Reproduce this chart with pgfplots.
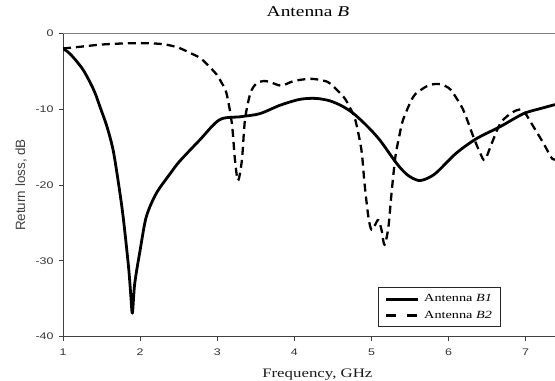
\documentclass[border=0pt]{standalone}
\usepackage{fontspec}
\setmainfont{Liberation Serif}[FakeStretch=1.3]
\setsansfont{Liberation Sans}[FakeStretch=1.3]
\newfontfamily\ylabfont{Liberation Sans}
\usepackage{pgfplots}
\pgfplotsset{compat=1.18}
\begin{document}
\begin{tikzpicture}
\begin{axis}[
  scale only axis,
  width=492bp, height=303.4bp,
  xmin=1, xmax=7.38, ymin=-40, ymax=0,
  xtick={1,2,3,4,5,6,7}, ytick={-40,-30,-20,-10,0},
  axis x line*=bottom, axis y line*=left,
  axis line style={line width=0.9pt, color=black!75, -},
  tick style={line width=0.8pt, color=black!75},
  tick align=outside, major tick length=4bp,
  /pgf/number format/assume math mode=true,
  xticklabel style={font=\sffamily\fontsize{9.6}{10}\selectfont, text=black!80, yshift=-5bp},
  yticklabel style={font=\sffamily\fontsize{9.6}{10}\selectfont, text=black!80, xshift=-2bp},
  title={Antenna \textit{B}},
  title style={font=\rmfamily\fontsize{15}{16}\selectfont, at={(rel axis cs:0.498,1.037)}, anchor=base},
  xlabel={Frequency, GHz},
  xlabel style={font=\rmfamily\fontsize{13}{14}\selectfont, at={(rel axis cs:0.517,-0.133)}, anchor=base, text=black!90},
  ylabel={Return loss, dB},
  ylabel style={font=\ylabfont\fontsize{13.5}{14}\selectfont, at={(rel axis cs:-0.085,0.5)}, anchor=center, rotate=0, text=black!75},
  legend style={at={(rel axis cs:0.64,0.032)}, anchor=south west,
    font=\rmfamily\fontsize{11}{12}\selectfont, draw=black!85, line width=0.7pt,
    inner xsep=6bp, inner ysep=5bp, row sep=3.5bp, column sep=3bp},
  legend cell align=left,
  legend image code/.code={\draw[#1] (0bp,0bp) -- (32bp,0bp);},
  every axis plot/.append style={line join=round},
]
\coordinate (ll) at (rel axis cs:0,0);
\coordinate (ur) at (rel axis cs:1,1);
\draw[black!50, line width=0.8pt] (rel axis cs:0,1) -- (rel axis cs:1,1);
\addlegendimage{black, line width=3bp}
\addlegendentry{Antenna \textit{B1}}
\addlegendimage{black, line width=2.6bp, dash pattern=on 10bp off 11bp}
\addlegendentry{Antenna \textit{B2}}
\addplot[black, line width=2.8pt, smooth, tension=0.5, forget plot] coordinates {
(1,-2) (1.1,-2.8) (1.26,-4.8) (1.4,-7.5) (1.48,-9.7) (1.57,-12.3) (1.65,-15.4)
(1.72,-19.8) (1.78,-24.2) (1.85,-30.8) (1.88,-34.7) (1.9,-36.9) (1.93,-33.0)
(2.0,-28.6) (2.08,-24.2) (2.21,-21.1) (2.39,-18.5) (2.51,-16.9) (2.77,-14.1)
(3.03,-11.4) (3.30,-11.0) (3.55,-10.6) (3.81,-9.5) (4.03,-8.8) (4.16,-8.6)
(4.3,-8.6) (4.46,-8.9) (4.62,-9.6) (4.77,-10.6) (4.95,-12.3) (5.11,-14.1) (5.33,-17.2)
(5.47,-18.7) (5.61,-19.4) (5.73,-19.1) (5.85,-18.3) (6.1,-15.8) (6.36,-13.9)
(6.67,-12.3) (6.97,-10.6) (7.2,-9.9) (7.38,-9.4)
};
\addplot[black, line width=2.3pt, dash pattern=on 8bp off 5bp, smooth, tension=0.5, forget plot] coordinates {
(1,-2) (1.2,-1.8) (1.48,-1.5) (1.75,-1.35) (2.0,-1.3) (2.2,-1.35) (2.34,-1.5)
(2.5,-1.9) (2.65,-2.6) (2.77,-3.2) (2.86,-4.0) (2.99,-5.4) (3.05,-6.4) (3.12,-7.9)
(3.19,-11.9) (3.23,-16.7) (3.27,-19.4) (3.32,-16.7) (3.36,-11.4) (3.43,-7.9)
(3.51,-6.6) (3.6,-6.3) (3.68,-6.4) (3.83,-6.9) (3.99,-6.3) (4.2,-6.0) (4.36,-6.2)
(4.46,-6.6) (4.64,-8.4) (4.72,-9.8) (4.79,-11.4) (4.87,-15.4) (4.91,-19.8)
(4.96,-24.2) (5.0,-25.9) (5.05,-25.2) (5.09,-24.6) (5.13,-25.9) (5.17,-27.9)
(5.22,-25.5) (5.26,-21.1) (5.31,-16.3) (5.36,-13.6) (5.41,-11.4) (5.54,-8.4)
(5.65,-7.4) (5.76,-6.8) (5.89,-6.7) (6.0,-7.2) (6.06,-7.9) (6.19,-10.1) (6.32,-13.6)
(6.41,-15.8) (6.47,-16.7) (6.56,-14.5) (6.67,-11.9) (6.8,-10.6) (6.9,-10.1)
(6.97,-10.2) (7.1,-12.3) (7.23,-14.5) (7.34,-16.5) (7.38,-16.6)
};
\end{axis}
\pgfresetboundingbox
\useasboundingbox ([xshift=-63bp,yshift=-44.3bp]ll) rectangle ([yshift=33.3bp]ur);
\end{tikzpicture}
\end{document}
